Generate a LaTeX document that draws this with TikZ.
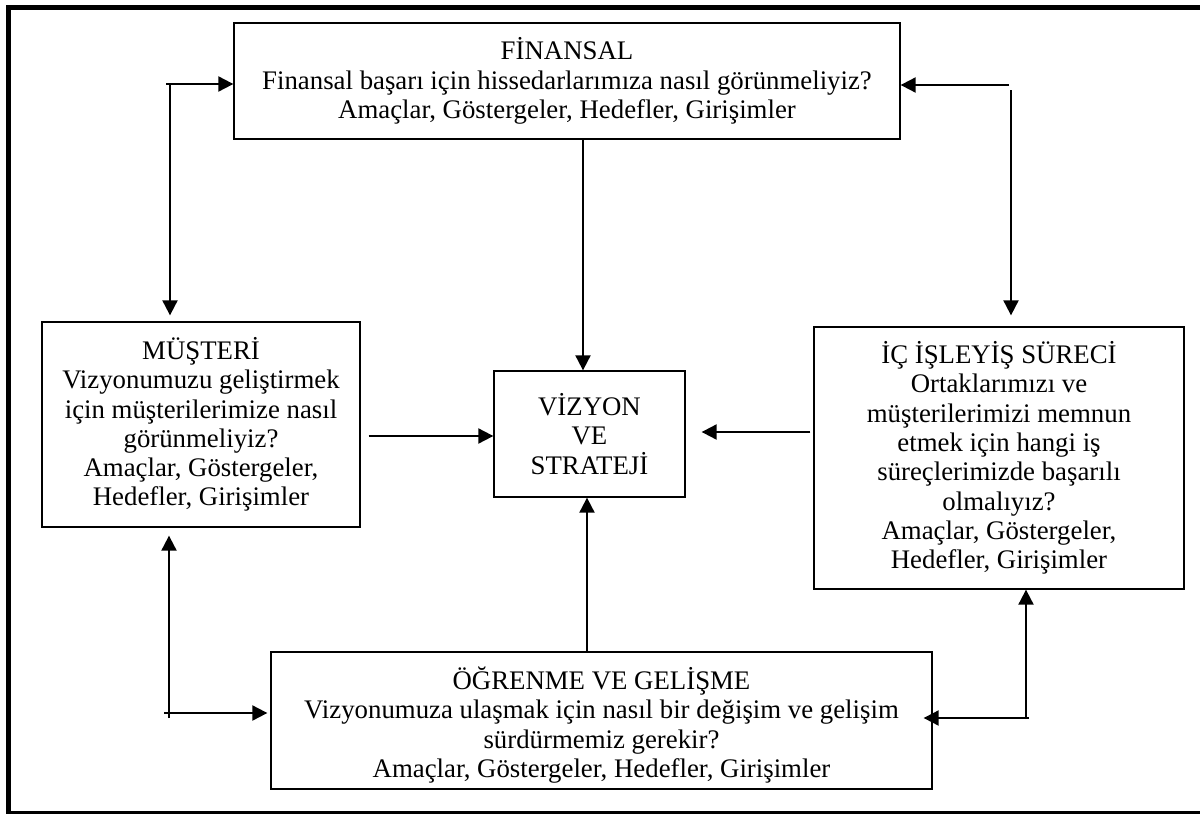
\documentclass[tikz,border=0pt]{standalone}
\usepackage{fontspec}
\setmainfont{Liberation Serif}
\usetikzlibrary{arrows.meta}
\begin{document}
\begin{tikzpicture}[x=1pt,y=-1pt,
  box/.style={draw=black, line width=1.3pt, inner sep=0pt, align=center,
    font=\fontsize{26.8}{29.3}\selectfont},
  txt/.style={inner sep=0pt, align=center, font=\fontsize{26.8}{29.3}\selectfont},
  arr/.style={line width=2pt, -{Triangle[length=15pt,width=15pt]}}]
\useasboundingbox (0,0) rectangle (1200,814);
\draw[line width=5pt] (1210,7) -- (8.5,7) -- (8.5,813) -- (1210,813);

\node[box, minimum width=666pt, minimum height=116pt] (fin) at (567,81)
  {FİNANSAL\\Finansal başarı için hissedarlarımıza nasıl görünmeliyiz?\\Amaçlar, Göstergeler, Hedefler, Girişimler};
\node[box, minimum width=318pt, minimum height=205pt] (mus) at (201,424.5)
  {MÜŞTERİ\\Vizyonumuzu geliştirmek\\için müşterilerimize nasıl\\görünmeliyiz?\\Amaçlar, Göstergeler,\\Hedefler, Girişimler};
\node[box, minimum width=191pt, minimum height=126pt] (viz) at (589.5,434)
  {VİZYON\\VE\\STRATEJİ};
\node[box, minimum width=370pt, minimum height=262pt] (ic) at (999,458)
  {İÇ İŞLEYİŞ SÜRECİ\\Ortaklarımızı ve\\müşterilerimizi memnun\\etmek için hangi iş\\süreçlerimizde başarılı\\olmalıyız?\\Amaçlar, Göstergeler,\\Hedefler, Girişimler};
\node[draw=black, line width=1.3pt, minimum width=661pt, minimum height=137pt, inner sep=0pt] (og) at (601.5,720.5) {};
\node[txt] (ogt) at (601.5,725)
  {ÖĞRENME VE GELİŞME\\Vizyonumuza ulaşmak için nasıl bir değişim ve gelişim\\sürdürmemiz gerekir?\\Amaçlar, Göstergeler, Hedefler, Girişimler};

% top left
\coordinate (tlh) at (166,84);
\coordinate (tlv) at (170,84);
\draw[arr] (tlh) -- (tlh -| fin.west);
\draw[arr, shorten >=6pt] (tlv) -- (tlv |- mus.north);
% top right
\coordinate (trh) at (1009,85);
\coordinate (trv) at (1011,90);
\draw[arr] (trh) -- (trh -| fin.east);
\draw[arr, shorten >=11pt] (trv) -- (trv |- ic.north);
% into the centre
\coordinate (cx1) at (583,0);
\draw[arr] (cx1 |- fin.south) -- (cx1 |- viz.north);
\coordinate (cy1) at (0,436);
\draw[arr, shorten <=8pt] (cy1 -| mus.east) -- (cy1 -| viz.west);
\coordinate (cy2) at (0,432);
\draw[arr, shorten <=3pt, shorten >=16pt] (cy2 -| ic.west) -- (cy2 -| viz.east);
\coordinate (cx2) at (587,0);
\draw[arr] (cx2 |- og.north) -- (cx2 |- viz.south);
% bottom left
\coordinate (blv) at (169,718);
\coordinate (blh) at (164,713);
\draw[arr, shorten >=8pt] (blv) -- (blv |- mus.south);
\draw[arr, shorten >=3pt] (blh) -- (blh -| og.west);
% bottom right
\coordinate (brv) at (1026,719);
\coordinate (brh) at (1029,718);
\draw[arr] (brv) -- (brv |- ic.south);
\draw[arr, shorten >=-9pt] (brh) -- (brh -| og.east);
\end{tikzpicture}
\end{document}
